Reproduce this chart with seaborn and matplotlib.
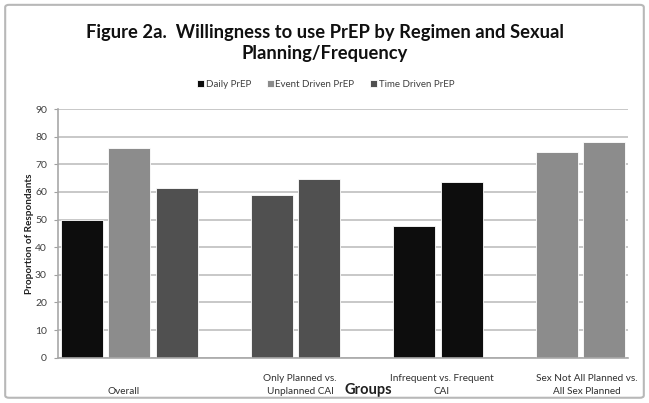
import numpy as np
import pandas as pd
import seaborn as sns
import matplotlib.pyplot as plt
from matplotlib.patches import FancyBboxPatch

# bar slots along the x axis (sp* = spacer slots between groups)
slots = ["ov_d", "ov_e", "ov_t", "sp1",
         "pl_a", "pl_b", "sp2",
         "fr_a", "fr_b", "sp3",
         "sx_a", "sx_b"]
bar_slots = ["ov_d", "ov_e", "ov_t", "pl_a", "pl_b", "fr_a", "fr_b", "sx_a", "sx_b"]
bar_series = ["Daily PrEP", "Event Driven PrEP", "Time Driven PrEP",
              "Time Driven PrEP", "Time Driven PrEP",
              "Daily PrEP", "Daily PrEP",
              "Event Driven PrEP", "Event Driven PrEP"]
bar_values = [50, 76, 61.5, 59, 64.7, 47.8, 63.7, 74.6, 78]

series_names = ["Daily PrEP", "Event Driven PrEP", "Time Driven PrEP"]
series_colors = ["#0d0d0d", "#8c8c8c", "#505050"]

group_labels = ["Overall", "Only Planned vs.\nUnplanned CAI",
                "Infrequent vs. Frequent\nCAI", "Sex Not All Planned vs.\nAll Sex Planned"]
group_label_pos = [0.87, 4.6, 7.58, 10.64]

df = pd.DataFrame({"slot": bar_slots, "series": bar_series, "value": bar_values})

sns.set_style("white")
plt.rcParams['font.family'] = ['Lato', 'DejaVu Sans']

fig = plt.figure(figsize=(6.49, 4.03), dpi=100)
ax = fig.add_axes([0.0894, 0.1124, 0.8782, 0.6171])

sns.barplot(data=df, x="slot", y="value", hue="series", order=slots,
            hue_order=series_names, palette=series_colors, dodge=False,
            width=0.88, edgecolor="white", linewidth=0.6, ax=ax, legend=True)

ax.set_ylim(0, 90)
ax.set_xlim(-0.5, len(slots) - 0.5)
ax.set_yticks(np.arange(0, 91, 10))
ax.yaxis.grid(True, color="#c4c4c4", linewidth=1.3)
ax.set_axisbelow(True)
ax.tick_params(axis="y", length=3, color="#a0a0a0", labelsize=7.5,
               labelcolor="#404040", left=True, pad=5)
ax.set_xticks([])
ax.set_xlabel("")
for s in ["top", "right"]:
    ax.spines[s].set_visible(False)
for s in ["left", "bottom"]:
    ax.spines[s].set_color("#a8a8a8")
    ax.spines[s].set_linewidth(1.2)

ax.set_ylabel("Proportion of Respondants", fontsize=7.2, fontweight="bold",
              color="#202020", labelpad=1)

for lab, xp in zip(group_labels, group_label_pos):
    ax.text(xp, -0.152, lab, transform=ax.get_xaxis_transform(), ha="center",
            va="bottom", multialignment="center", fontsize=7.2, color="#303030",
            linespacing=1.5)
ax.text(6.03, -0.158, "Groups", transform=ax.get_xaxis_transform(), ha="center",
        va="bottom", fontsize=10.5, fontweight="bold", color="#202020")

handles, labels = ax.get_legend_handles_labels()
ax.get_legend().remove()
fig.legend(handles, labels, loc="center", bbox_to_anchor=(0.502, 0.79), ncol=3,
           frameon=False, fontsize=7, handlelength=0.7, handleheight=0.7,
           handletextpad=0.2, columnspacing=1.6, labelcolor="#404040")

fig.text(0.5, 0.893, "Figure 2a.  Willingness to use PrEP by Regimen and Sexual\nPlanning/Frequency",
         ha="center", va="center", fontsize=13.2, fontweight="bold", color="#101010",
         linespacing=1.3)

border = FancyBboxPatch((0.008, 0.013), 0.984, 0.975, boxstyle="round,pad=0,rounding_size=0.006",
                        transform=fig.transFigure, fill=False, edgecolor="#b8b8b8",
                        linewidth=1.5)
fig.patches.append(border)

fig.savefig("out.png", dpi=100)
